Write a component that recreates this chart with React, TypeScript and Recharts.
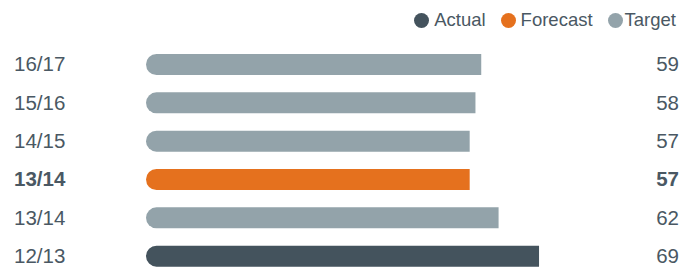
import React from "react";
import { BarChart, Bar, XAxis, YAxis, Cell, Legend } from "recharts";

const categories = ["16/17", "15/16", "14/15", "13/14", "13/14", "12/13"];
const values = [59, 58, 57, 57, 62, 69];
const kinds = ["Target", "Target", "Target", "Forecast", "Target", "Actual"];
const boldRows = [false, false, false, true, false, false];

const legendItems = ["Actual", "Forecast", "Target"];
const colors: Record<string, string> = {
  Actual: "#44535d",
  Forecast: "#e5711e",
  Target: "#93a3aa",
};

const TEXT = "#4a5863";
const FONT = "'Liberation Sans', Arial, Helvetica, sans-serif";
const LEGEND_H = 24;

const data = categories.map((c, i) => ({
  id: i,
  label: c,
  value: values[i],
  kind: kinds[i],
  bold: boldRows[i],
}));

const LeftTick = (props: any) => {
  const { y, payload } = props;
  const row = data[payload.value];
  return (
    <text
      x={14}
      y={y}
      dy={7}
      textAnchor="start"
      fill={TEXT}
      fontSize={20.5}
      fontWeight={row.bold ? 700 : 400}
      fontFamily={FONT}
    >
      {row.label}
    </text>
  );
};

const RightTick = (props: any) => {
  const { y, payload } = props;
  const row = data[payload.value];
  return (
    <text
      x={679}
      y={y}
      dy={7}
      textAnchor="end"
      fill={TEXT}
      fontSize={20.5}
      fontWeight={row.bold ? 700 : 400}
      fontFamily={FONT}
    >
      {row.value}
    </text>
  );
};

const LegendContent = () => (
  <div
    style={{
      display: "flex",
      alignItems: "center",
      height: LEGEND_H,
      fontFamily: FONT,
      fontSize: 18.5,
      color: TEXT,
    }}
  >
    {legendItems.map((name, i) => (
      <div key={name} style={{ display: "flex", alignItems: "center", marginLeft: i === 0 ? 0 : 15 }}>
        <span
          style={{
            display: "inline-block",
            width: 15,
            height: 15,
            borderRadius: "50%",
            background: colors[name],
            marginRight: i === 2 ? 2 : 5,
          }}
        />
        <span>{name}</span>
      </div>
    ))}
  </div>
);

export default function App() {
  return (
    <div style={{ position: "absolute", left: 0, top: 0, background: "#fff" }}>
      <BarChart
        width={692}
        height={280}
        data={data}
        layout="vertical"
        margin={{ top: 45 - LEGEND_H, right: 0, bottom: 5, left: 0 }}
        barSize={21}
      >
        <XAxis type="number" domain={[1, 81]} hide allowDataOverflow />
        <YAxis
          yAxisId="left"
          type="category"
          dataKey="id"
          width={146}
          axisLine={false}
          tickLine={false}
          tick={<LeftTick />}
          interval={0}
        />
        <YAxis
          yAxisId="right"
          orientation="right"
          type="category"
          dataKey="id"
          width={83.6}
          axisLine={false}
          tickLine={false}
          tick={<RightTick />}
          interval={0}
        />
        <Legend
          layout="horizontal"
          verticalAlign="top"
          align="right"
          content={<LegendContent />}
          wrapperStyle={{ top: 8, right: 16, left: "auto", width: "auto", bottom: "auto" }}
        />
        <Bar yAxisId="left" dataKey="value" radius={[10.5, 0, 0, 10.5]} isAnimationActive={false}>
          {data.map((d) => (
            <Cell key={d.id} fill={colors[d.kind]} />
          ))}
        </Bar>
      </BarChart>
    </div>
  );
}
